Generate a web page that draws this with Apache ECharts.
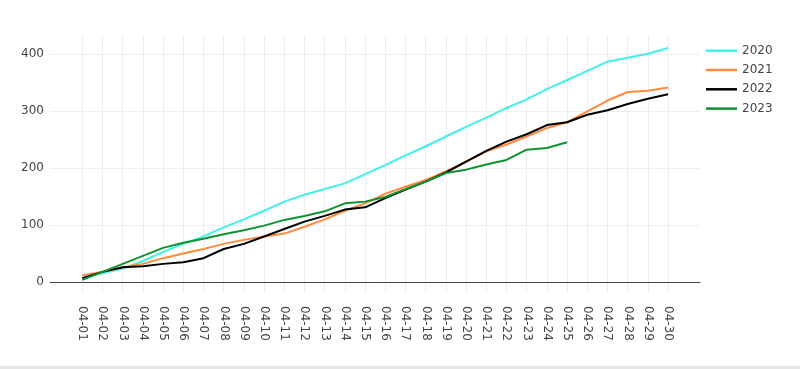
<!DOCTYPE html>
<html>
<head>
<meta charset="utf-8">
<style>
html,body{margin:0;padding:0;background:#fff;}
#chart{width:800px;height:369px;}
</style>
<script src="https://cdn.jsdelivr.net/npm/echarts@6/dist/echarts.min.js"></script>
</head>
<body>
<div id="chart"></div>
<script>
var categories = ['04-01','04-02','04-03','04-04','04-05','04-06','04-07','04-08','04-09','04-10',
  '04-11','04-12','04-13','04-14','04-15','04-16','04-17','04-18','04-19','04-20',
  '04-21','04-22','04-23','04-24','04-25','04-26','04-27','04-28','04-29','04-30'];
var seriesNames = ['2020','2021','2022','2023'];
var values2020 = [7,16,24,37,53,67,80,96,110,125,141,153,163,173,189,205,222,238,255,272,288,305,320,338,354,370,386,393,400,410];
var values2021 = [12,18,26,32,42,50,58,67,74,80,85,97,110,125,138,155,167,179,194,211,229,241,255,270,280,299,318,333,335,341];
var values2022 = [7,18,26,28,32,35,42,58,67,80,93,106,116,127,131,147,162,176,192,211,230,246,259,275,280,293,301,312,321,329];
var values2023 = [4,18,32,46,60,69,76,84,91,99,109,116,124,138,141,149,163,176,191,197,206,214,232,235,245];
var yTicks = [0,100,200,300,400];

var colors = ['#40F2E6','#FF8A3D','#000000','#0F9230'];
var font = 'DejaVu Sans, Verdana, sans-serif';
var allValues = [values2020, values2021, values2022, values2023];

var chart = echarts.init(document.getElementById('chart'), null, {renderer:'canvas'});
var option = {
  animation: false,
  backgroundColor: '#ffffff',
  grid: [
    {left: 82.3, right: 131.9, top: 36, bottom: 76, containLabel: false},
    {left: 50, right: 100, top: 54, bottom: 86.7, containLabel: false}
  ],
  legend: {
    orient: 'vertical',
    left: 706,
    top: 43.7,
    padding: 0,
    itemWidth: 31,
    itemHeight: 2.5,
    itemGap: 5.3,
    icon: 'rect',
    data: seriesNames,
    textStyle: {fontFamily: font, fontSize: 12, color: '#444', lineHeight: 14}
  },
  xAxis: [
    {
      type: 'category', gridIndex: 0, data: categories, boundaryGap: false,
      axisLine: {show: false}, axisTick: {show: false},
      splitLine: {show: true, lineStyle: {color: '#eeeeee', width: 1}},
      axisLabel: {rotate: -90, margin: 13, interval: 0, fontFamily: font, fontSize: 12, color: '#444'}
    },
    {
      type: 'category', gridIndex: 1, data: categories, boundaryGap: false,
      axisLine: {show: true, onZero: false, lineStyle: {color: '#444', width: 1}},
      axisTick: {show: false}, axisLabel: {show: false}, splitLine: {show: false}
    }
  ],
  yAxis: [
    {
      type: 'value', gridIndex: 0, min: -19, max: 431,
      show: false, splitLine: {show: false}
    },
    {
      type: 'value', gridIndex: 1, min: yTicks[0], max: yTicks[yTicks.length-1], interval: 100,
      axisLine: {show: false}, axisTick: {show: false},
      splitLine: {show: true, lineStyle: {color: '#eeeeee', width: 1}},
      axisLabel: {margin: 6, fontFamily: font, fontSize: 12, color: '#444'}
    }
  ],
  series: seriesNames.map(function(name, i){
    return {
      name: name, type: 'line', xAxisIndex: 0, yAxisIndex: 0,
      data: allValues[i], symbol: 'none', showSymbol: false, smooth: false,
      color: colors[i], lineStyle: {color: colors[i], width: 2}, z: 3 + i
    };
  }),
  graphic: [
    {type: 'rect', left: 0, top: 366, shape: {width: 800, height: 3}, style: {fill: '#e5e5e5'}, silent: true}
  ]
};
chart.setOption(option);
</script>
</body>
</html>
